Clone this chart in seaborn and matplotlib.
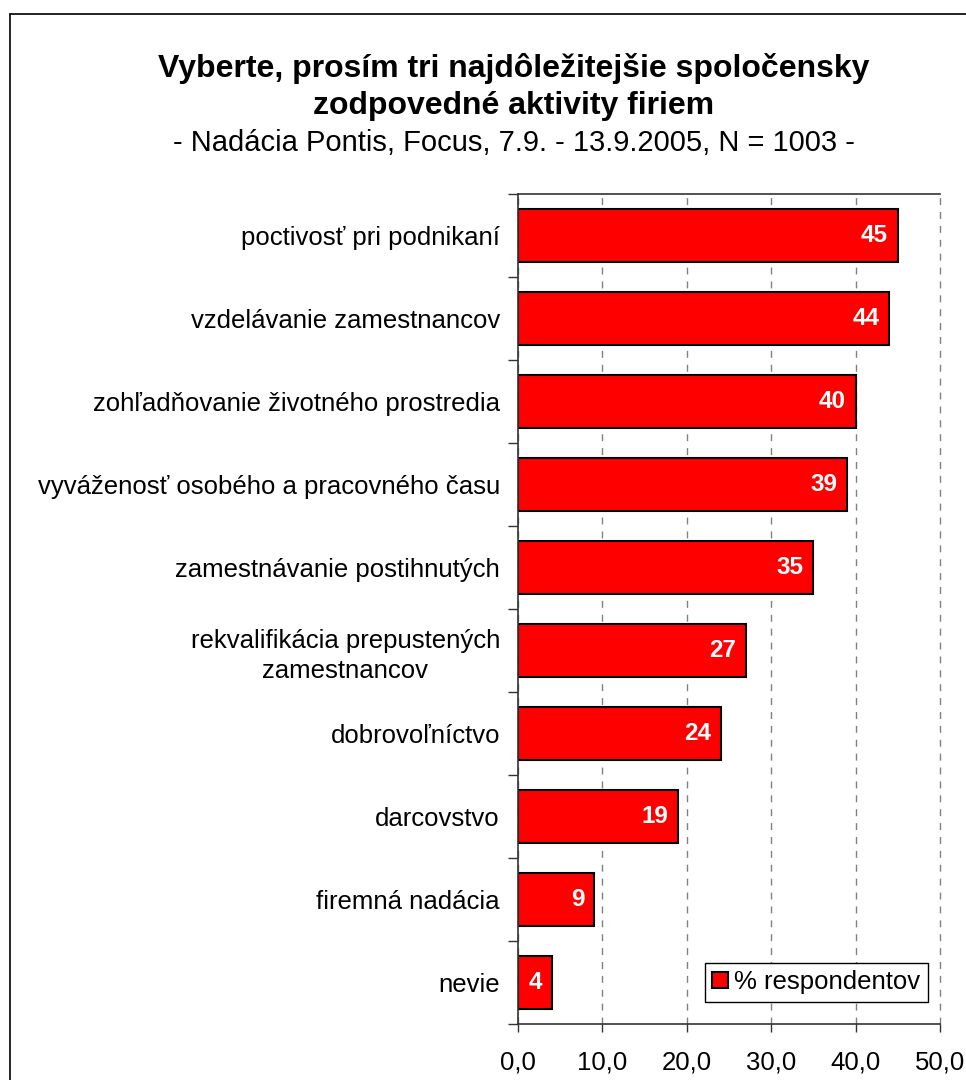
import matplotlib
matplotlib.use("Agg")
import matplotlib.pyplot as plt
from matplotlib.lines import Line2D
from matplotlib.ticker import FixedLocator
import seaborn as sns

# Survey answers: share of respondents naming each activity
categories = [
    "poctivosť pri podnikaní",
    "vzdelávanie zamestnancov",
    "zohľadňovanie životného prostredia",
    "vyváženosť osobého a pracovného času",
    "zamestnávanie postihnutých",
    "rekvalifikácia prepustených\nzamestnancov",
    "dobrovoľníctvo",
    "darcovstvo",
    "firemná nadácia",
    "nevie",
]
values = [45, 44, 40, 39, 35, 27, 24, 19, 9, 4]
series_name = "% respondentov"

xtick_values = [0, 10, 20, 30, 40, 50]
xtick_labels = ["0,0", "10,0", "20,0", "30,0", "40,0", "50,0"]

title_lines = "Vyberte, prosím tri najdôležitejšie spoločensky\nzodpovedné aktivity firiem"
subtitle = "- Nadácia Pontis, Focus, 7.9. - 13.9.2005, N = 1003 -"

sns.set_style("white")
plt.rcParams["font.family"] = ["Liberation Sans", "DejaVu Sans"]
plt.rcParams["text.color"] = "black"

W, H = 966, 1080
fig = plt.figure(figsize=(W / 100, H / 100), dpi=100)
ax = fig.add_axes([518 / W, 56 / H, (940 - 518) / W, (1024 - 194) / H])

sns.barplot(
    x=values, y=categories, orient="h", ax=ax,
    color="#FF0000", saturation=1, edgecolor="black", linewidth=1.5,
    width=0.65, label=series_name,
)

n = len(categories)
ax.set_xlim(xtick_values[0], xtick_values[-1])
ax.set_ylim(n - 0.5, -0.5)

# value labels just inside the end of each bar
for i, v in enumerate(values):
    ax.annotate(str(v), xy=(v, i), xytext=(-7, 0), textcoords="offset points",
                ha="right", va="center", color="white", fontsize=17.5,
                fontweight="bold")

# x axis
ax.set_xticks(xtick_values)
ax.set_xticklabels(xtick_labels, fontsize=18.5)
ax.tick_params(axis="x", direction="out", length=6, width=1, color="#333333",
               pad=13, labelcolor="black", bottom=True)
ax.set_axisbelow(True)
ax.xaxis.grid(True, linestyle=(0, (5, 5)), color="#808080", linewidth=1)
ax.yaxis.grid(False)
for gl in ax.get_xgridlines():
    gl.set_clip_on(False)

# y axis: labels at category centres, ticks at category boundaries
ax.set_yticks(range(n))
ax.set_yticklabels(categories, fontsize=18.5)
for t in ax.get_yticklabels():
    t.set_multialignment("center")
    t.set_linespacing(1.3)
ax.tick_params(axis="y", which="major", length=0, pad=13, labelcolor="black")
ax.yaxis.set_minor_locator(FixedLocator([k - 0.5 for k in range(n + 1)]))
ax.tick_params(axis="y", which="minor", direction="out", length=7, width=1,
               color="#333333", left=True)

ax.set_xlabel("")
ax.set_ylabel("")

for side in ("left", "bottom", "top"):
    ax.spines[side].set_visible(True)
    ax.spines[side].set_color("#333333")
    ax.spines[side].set_linewidth(1.2)
ax.spines["right"].set_visible(False)

leg = ax.legend(
    loc="lower right", bbox_to_anchor=((928 - 518) / 422, (1024 - 1002) / 830),
    frameon=True, fancybox=False, edgecolor="black", framealpha=1,
    handlelength=0.6, handleheight=0.6, handletextpad=0.25,
    borderpad=0.3, borderaxespad=0, fontsize=18.5,
)
leg.get_frame().set_linewidth(1)

# titles
cx = 514 / W
fig.text(cx, 1 - 87 / H, title_lines, ha="center", va="center", color="black",
         fontsize=23, fontweight="bold", linespacing=1.3)
fig.text(cx, 1 - 143 / H, subtitle, ha="center", va="center", color="black",
         fontsize=21)

# outer chart border
x0, y0 = 10 / W, 1 - 14 / H
fig.add_artist(Line2D([x0, x0], [0, y0], transform=fig.transFigure,
                      color="black", linewidth=1.2))
fig.add_artist(Line2D([x0, 1], [y0, y0], transform=fig.transFigure,
                      color="black", linewidth=1.2))

fig.savefig("out.png", dpi=100)
